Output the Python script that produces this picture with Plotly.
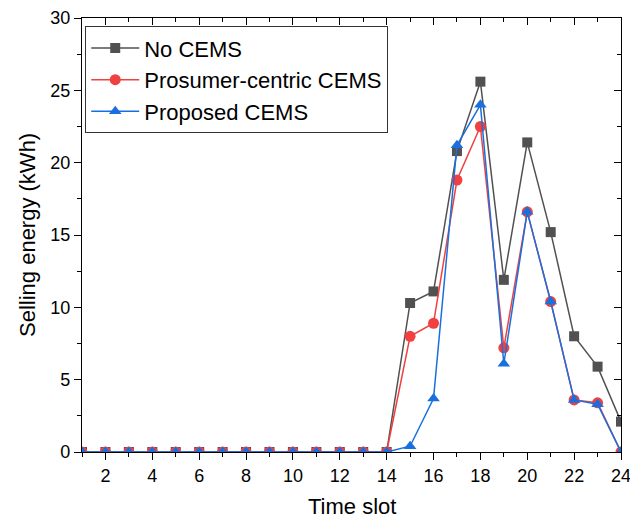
import plotly.graph_objects as go

slots = list(range(1, 25))
no_cems = [0]*14 + [10.3, 11.1, 20.8, 25.6, 11.9, 21.4, 15.2, 8.0, 5.9, 2.1]
prosumer = [0]*14 + [8.0, 8.9, 18.8, 22.5, 7.2, 16.6, 10.4, 3.6, 3.4, 0.0]
proposed = [0]*14 + [0.4, 3.7, 21.2, 24.0, 6.1, 16.6, 10.4, 3.6, 3.3, 0.0]

x_ticks = list(range(2, 25, 2))
y_ticks = [0, 5, 10, 15, 20, 25, 30]

FONT = "Liberation Sans, Arial, sans-serif"

fig = go.Figure()
series = [
    ("No CEMS", no_cems, "#515151", "square", 10),
    ("Prosumer-centric CEMS", prosumer, "#F14040", "circle", 11),
    ("Proposed CEMS", proposed, "#1A6FDF", "triangle-up", 11),
]
for name, ys, col, sym, ms in series:
    fig.add_trace(go.Scatter(x=slots, y=ys, name=name, mode="lines+markers",
                             line=dict(color=col, width=1.5),
                             marker=dict(symbol=sym, size=ms, color=col)))

# invisible trace for inward mirrored ticks
fig.add_trace(go.Scatter(x=[1], y=[0], xaxis="x2", yaxis="y2", showlegend=False,
                         mode="markers", marker=dict(opacity=0), hoverinfo="skip"))

axis_common = dict(showgrid=False, zeroline=False, showline=True, linecolor="black",
                   linewidth=1.2, tickcolor="black", ticklen=7, tickwidth=1.2,
                   automargin=False)

fig.update_layout(
    width=630, height=518,
    margin=dict(l=82, r=9, t=18, b=66),
    paper_bgcolor="white", plot_bgcolor="white",
    font=dict(family=FONT, color="black", size=18),
    xaxis=dict(range=[1, 24], tickvals=x_ticks, ticks="outside",
               ticklabeloverflow="allow",
               minor=dict(dtick=1, tick0=1, ticks="outside", ticklen=4, tickcolor="black"),
               tickfont=dict(size=18), **axis_common),
    yaxis=dict(range=[0, 30], tickvals=y_ticks, ticks="outside",
               ticklabeloverflow="allow",
               minor=dict(dtick=2.5, tick0=0, ticks="outside", ticklen=4, tickcolor="black"),
               tickfont=dict(size=18), **axis_common),
    xaxis2=dict(range=[1, 24], overlaying="x", side="top", tickvals=x_ticks,
                ticks="inside", showticklabels=False,
                minor=dict(dtick=1, tick0=1, ticks="inside", ticklen=4, tickcolor="black"),
                **axis_common),
    yaxis2=dict(range=[0, 30], overlaying="y", side="right", tickvals=y_ticks,
                ticks="inside", showticklabels=False,
                minor=dict(dtick=2.5, tick0=0, ticks="inside", ticklen=4, tickcolor="black"),
                **axis_common),
    legend=dict(x=0.006, y=0.981, xanchor="left", yanchor="top",
                bgcolor="white", bordercolor="#333333", borderwidth=1,
                font=dict(size=22, family=FONT), tracegroupgap=0,
                itemwidth=48),
    showlegend=True,
    annotations=[
        dict(text="Time slot", xref="paper", yref="paper", x=0.5, y=0,
             yshift=-54, xanchor="center", yanchor="middle", showarrow=False,
             font=dict(size=22)),
        dict(text="Selling energy (kWh)", xref="paper", yref="paper", x=0, y=0.5,
             xshift=-55, xanchor="center", yanchor="middle", showarrow=False,
             textangle=-90, font=dict(size=22)),
    ],
)

fig.write_html("out.html", config={"displayModeBar": False},
               post_script="document.body.style.margin='0';document.body.style.overflow='hidden';")
